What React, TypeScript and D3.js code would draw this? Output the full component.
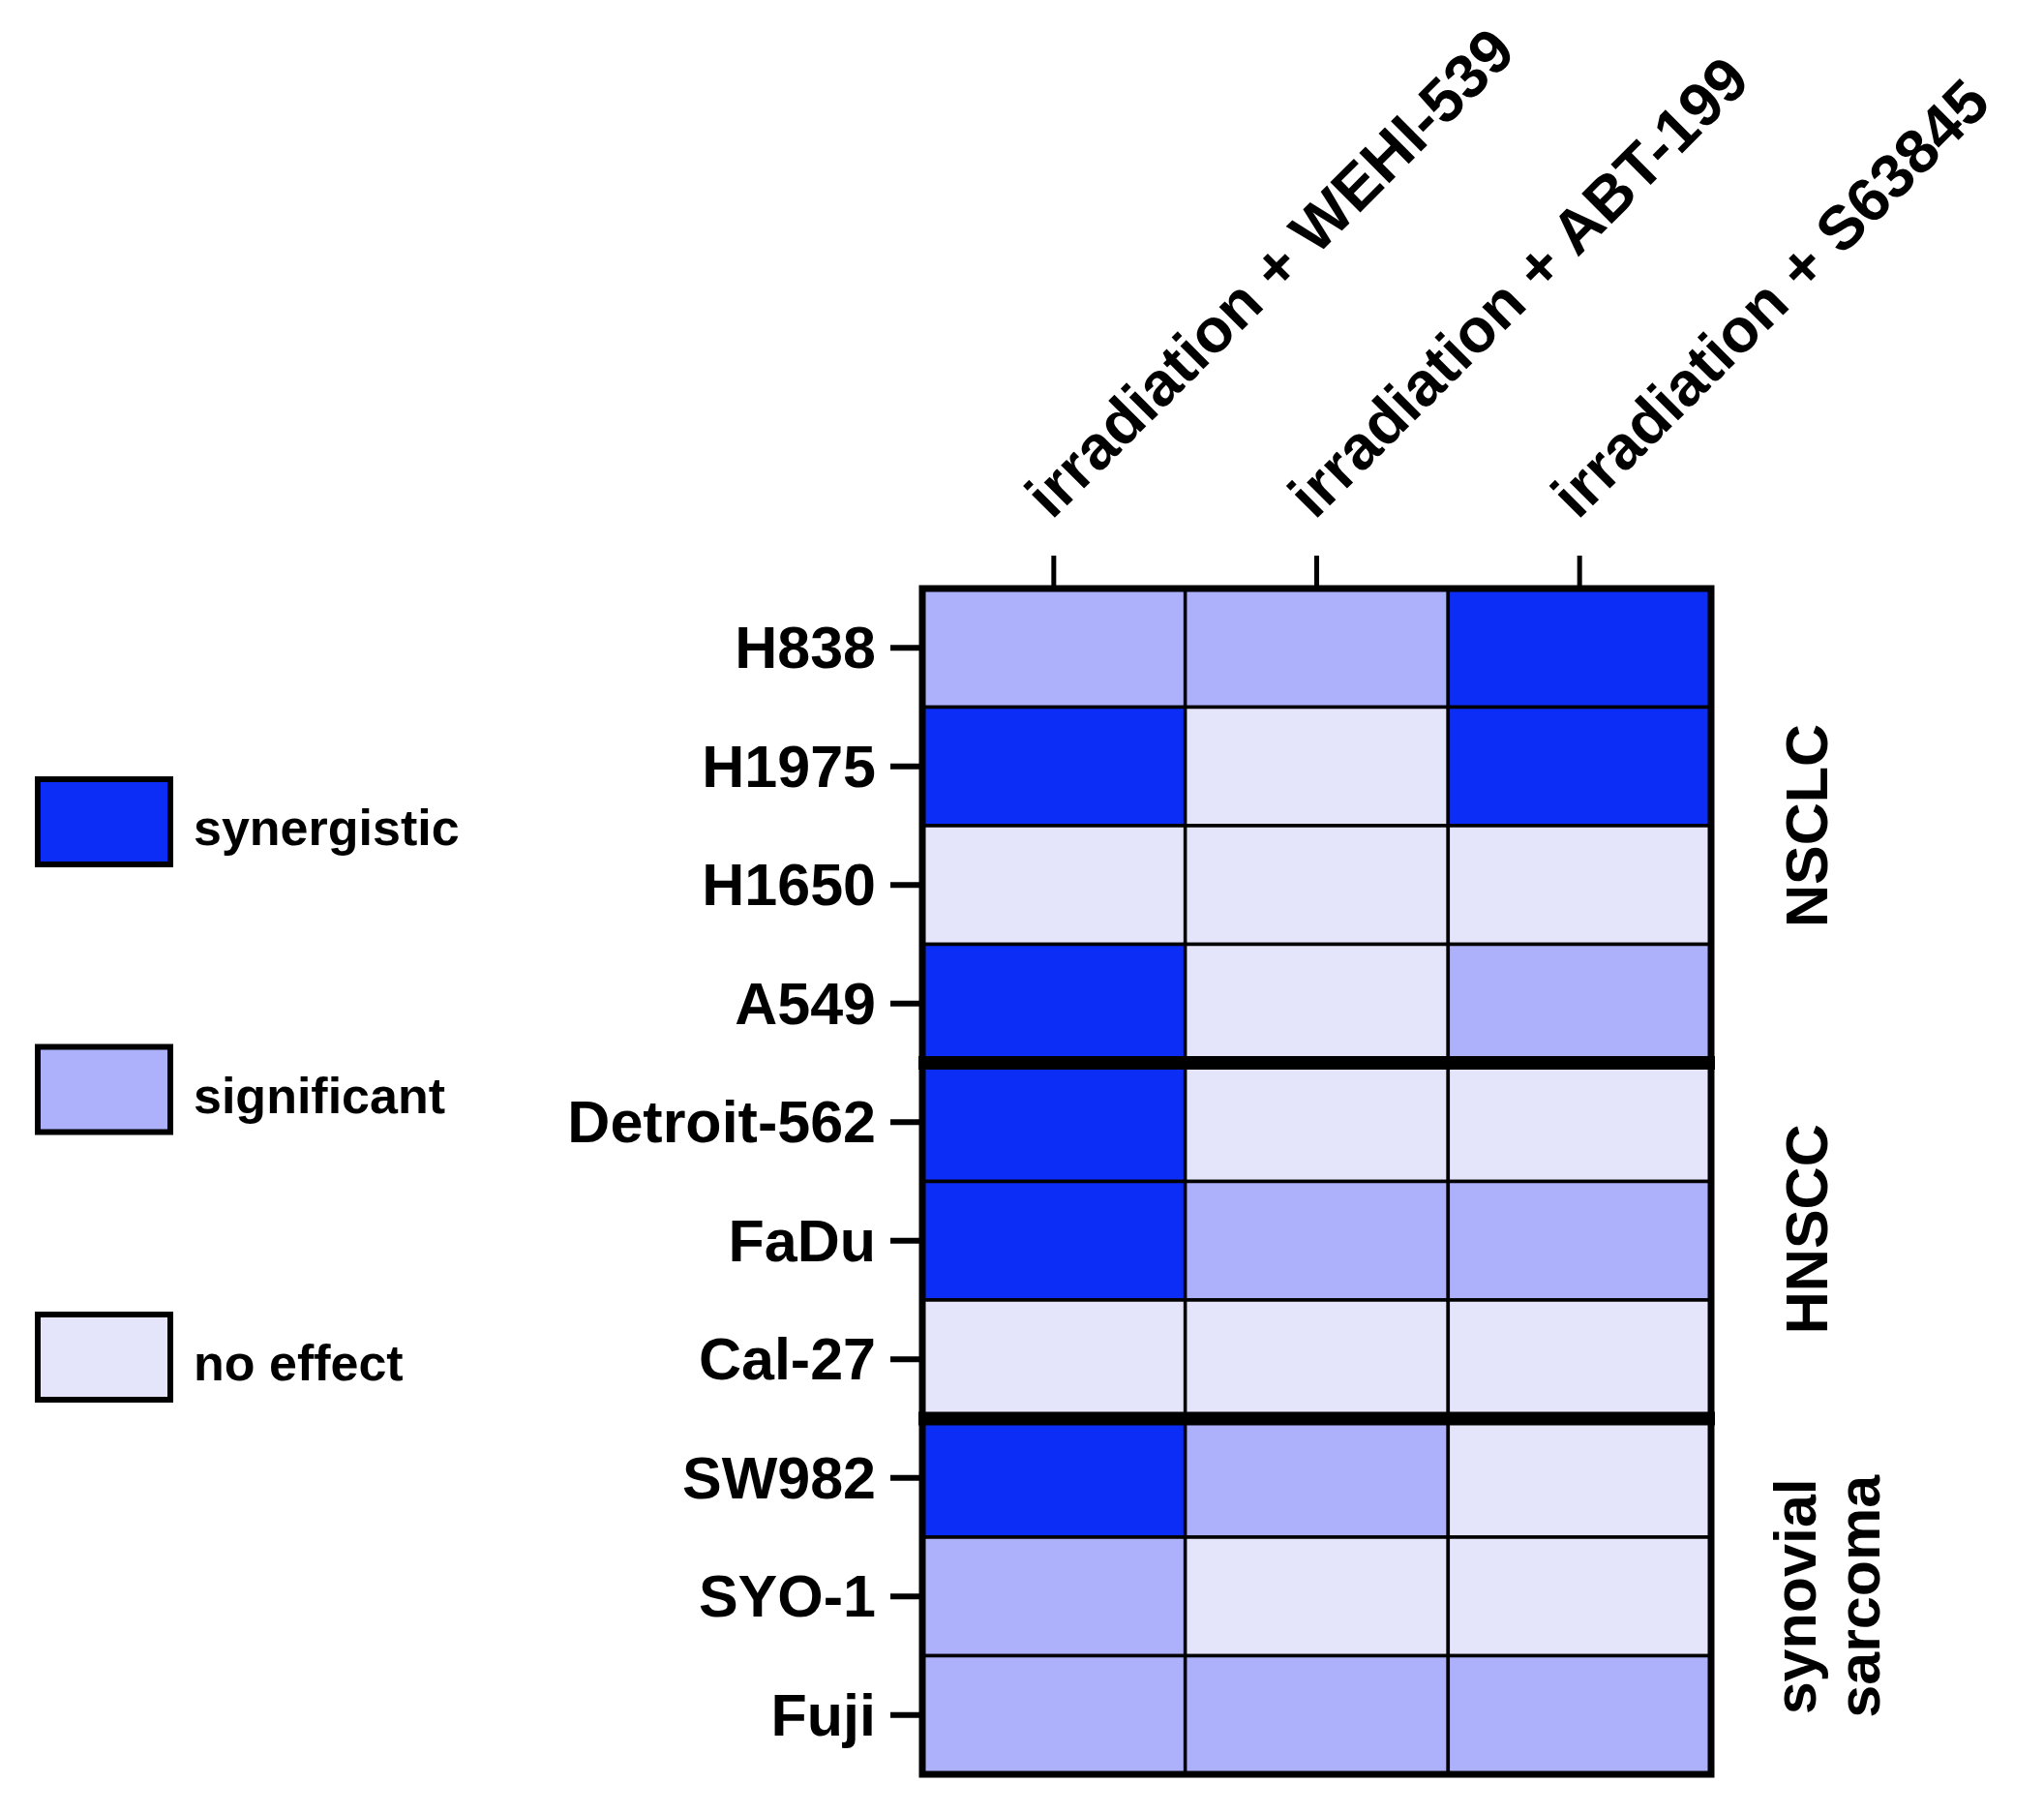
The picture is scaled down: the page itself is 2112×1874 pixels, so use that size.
import React from "react";
import * as d3 from "d3";

const columns = ["irradiation + WEHI-539", "irradiation + ABT-199", "irradiation + S63845"];
const cellLines = ["H838", "H1975", "H1650", "A549", "Detroit-562", "FaDu", "Cal-27", "SW982", "SYO-1", "Fuji"];
// 2 = synergistic, 1 = significant, 0 = no effect
const effectWEHI = [1, 2, 0, 2, 2, 2, 0, 2, 1, 1];
const effectABT = [1, 0, 0, 0, 0, 1, 0, 1, 0, 1];
const effectS63845 = [2, 2, 0, 1, 0, 1, 0, 0, 0, 1];
const legendLabels = ["synergistic", "significant", "no effect"];
const legendLevels = [2, 1, 0];
const groupLabels = [["NSCLC"], ["HNSCC"], ["synovial", "sarcoma"]];
const groupSizes = [4, 3, 3];

const FONT = "'Liberation Sans', Arial, Helvetica, sans-serif";

export default function App() {
  const W = 2112, H = 1874;
  const left = 953, right = 1768, top = 608, bottom = 1833;
  const x = d3.scaleBand<string>().domain(columns).range([left, right]).padding(0);
  const y = d3.scaleBand<string>().domain(cellLines).range([top, bottom]).padding(0);
  const color = d3.scaleOrdinal<number, string>().domain([0, 1, 2]).range(["#e4e5fb", "#adb0fa", "#0b2df6"]);
  const series = [effectWEHI, effectABT, effectS63845];

  const cells: { c: string; r: string; v: number }[] = [];
  columns.forEach((c, ci) => cellLines.forEach((r, ri) => cells.push({ c, r, v: series[ci][ri] })));

  const bounds: number[] = [];
  let acc = 0;
  groupSizes.forEach((s) => { bounds.push(acc); acc += s; });

  const legendY = d3.scaleLinear().domain([0, 2]).range([805, 1358]);

  return (
    <svg width={W} height={H} style={{ position: "absolute", left: 0, top: 0, background: "#fff" }} fontFamily={FONT}>
      <rect x={0} y={0} width={W} height={H} fill="#fff" />
      {cells.map((d, i) => (
        <rect key={i} x={x(d.c)} y={y(d.r)} width={x.bandwidth()} height={y.bandwidth()}
          fill={color(d.v)} stroke="#000" strokeWidth={3.5} />
      ))}
      {bounds.slice(1).map((b, i) => {
        const yy = top + b * y.bandwidth();
        return <line key={i} x1={left - 4} x2={right + 4} y1={yy} y2={yy} stroke="#000" strokeWidth={14} />;
      })}
      <rect x={left} y={top} width={right - left} height={bottom - top} fill="none" stroke="#000" strokeWidth={7} />
      {columns.map((c) => {
        const cx = (x(c) as number) + x.bandwidth() / 2;
        return <line key={c} x1={cx} x2={cx} y1={top - 34} y2={top} stroke="#000" strokeWidth={5} />;
      })}
      {columns.map((c) => {
        const cx = (x(c) as number) + x.bandwidth() / 2;
        return (
          <text key={c} transform={`translate(${cx - 2},${top - 70}) rotate(-45)`} fontSize={64} fontWeight="bold" fill="#000">{c}</text>
        );
      })}
      {cellLines.map((r) => {
        const cy = (y(r) as number) + y.bandwidth() / 2;
        return (
          <g key={r}>
            <line x1={left - 33} x2={left} y1={cy} y2={cy} stroke="#000" strokeWidth={6} />
            <text x={905} y={cy + 21} textAnchor="end" fontSize={61} fontWeight="bold" fill="#000">{r}</text>
          </g>
        );
      })}
      {groupLabels.map((lines, gi) => {
        const y0 = top + bounds[gi] * y.bandwidth();
        const y1 = y0 + groupSizes[gi] * y.bandwidth();
        const cy = (y0 + y1) / 2 - (gi === 1 ? 12 : 0);
        const baseX = lines.length > 1 ? 1876 : 1888;
        return lines.map((t, li) => (
          <text key={gi + "-" + li} transform={`translate(${baseX + li * 66},${cy}) rotate(-90)`} textAnchor="middle"
            fontSize={61} fontWeight="bold" fill="#000">{t}</text>
        ));
      })}
      {legendLabels.map((l, i) => {
        const yy = legendY(i);
        return (
          <g key={l}>
            <rect x={39} y={yy} width={137} height={88} fill={color(legendLevels[i])} stroke="#000" strokeWidth={6} />
            <text x={200} y={yy + 44 + 24} fontSize={52} fontWeight="bold" fill="#000">{l}</text>
          </g>
        );
      })}
    </svg>
  );
}
